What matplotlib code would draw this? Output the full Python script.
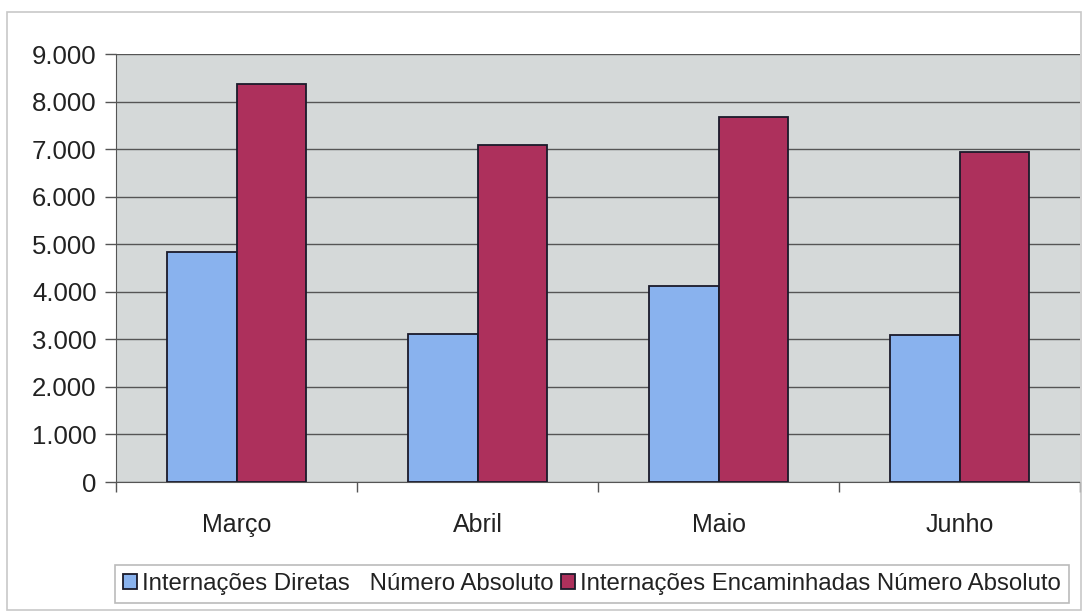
import matplotlib
matplotlib.use("Agg")
import matplotlib.pyplot as plt
import numpy as np
from matplotlib.ticker import FuncFormatter
from matplotlib.patches import Rectangle

months = ["Março", "Abril", "Maio", "Junho"]
diretas = [4830, 3110, 4120, 3095]
encaminhadas = [8360, 7080, 7670, 6945]
series_labels = ["Internações Diretas   Número Absoluto",
                 "Internações Encaminhadas Número Absoluto"]
yticks = list(range(0, 9001, 1000))

plt.rcParams['font.family'] = ['Liberation Sans', 'DejaVu Sans']

fig = plt.figure(figsize=(10.84, 6.14), dpi=100)
fig.patch.set_facecolor("white")
# outer chart border
fig.add_artist(Rectangle((7/1084, 4/614), 1074/1084, 598/614, transform=fig.transFigure,
                         fill=False, edgecolor="#c8c8c8", linewidth=1.2))

ax = fig.add_axes([116/1084, 1 - 482/614, (1080 - 116)/1084, (482 - 54)/614])
ax.set_facecolor("#d5d9d9")

x = np.arange(len(months))
w = 0.29
c_blue = "#89b2ee"
c_red = "#ad305c"
ax.bar(x - w/2, diretas, w, color=c_blue, edgecolor="#1a1a2a", linewidth=1.3,
       label=series_labels[0], zorder=3)
ax.bar(x + w/2, encaminhadas, w, color=c_red, edgecolor="#1a1a2a", linewidth=1.3,
       label=series_labels[1], zorder=3)

ax.set_xlim(-0.5, len(months) - 0.5)
ax.set_ylim(0, 9000)
ax.set_yticks(yticks)
ax.yaxis.set_major_formatter(FuncFormatter(lambda v, p: f"{int(v):,}".replace(",", ".")))
ax.grid(axis="y", color="#555555", linewidth=1.0, zorder=1)
ax.set_axisbelow(True)

ax.set_xticks(x)
ax.set_xticklabels(months)
ax.set_xticks(np.arange(-0.5, len(months), 1.0), minor=True)
ax.tick_params(axis="x", which="major", length=0, pad=22, labelsize=18, labelcolor="#222222")
ax.tick_params(axis="x", which="minor", length=7, width=1.0, color="#555555", direction="out")
ax.tick_params(axis="y", length=8, width=1.0, color="#555555", pad=6, labelsize=18.5,
               labelcolor="#222222")

for s in ["top", "right"]:
    ax.spines[s].set_visible(False)
ax.spines["left"].set_color("#555555")
ax.spines["bottom"].set_color("#555555")

leg = fig.legend(loc="center", bbox_to_anchor=(592/1084, 1 - 584/614), ncol=2,
                 frameon=True, fancybox=False, edgecolor="#aaaaaa", fontsize=17.3,
                 handlelength=0.6, handleheight=0.6, handletextpad=0.2,
                 columnspacing=0.3, borderpad=0.32, borderaxespad=0)
leg.get_frame().set_linewidth(1.2)
for t in leg.get_texts():
    t.set_color("#222222")

fig.savefig("out.png", dpi=100, facecolor="white")
